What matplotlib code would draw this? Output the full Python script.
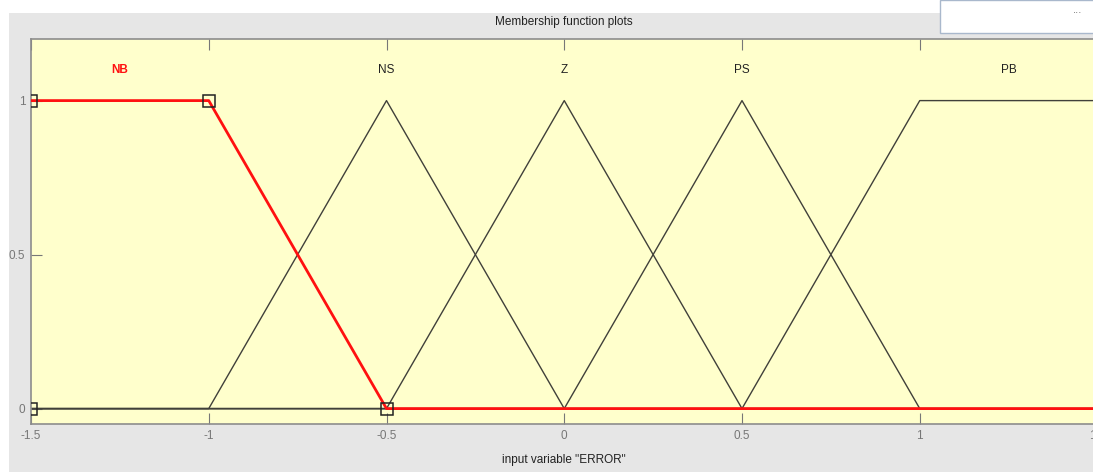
import matplotlib
matplotlib.use("Agg")
import matplotlib.pyplot as plt
from matplotlib.patches import Rectangle

# membership function vertices (x, y)
mf_names = ["NB", "NS", "Z", "PS", "PB"]
mf_label_x = [-1.25, -0.5, 0.0, 0.5, 1.25]
mf_x = [
    [-1.5, -1.0, -0.5, 1.5],
    [-1.5, -1.0, -0.5, 0.0, 1.5],
    [-1.5, -0.5, 0.0, 0.5, 1.5],
    [-1.5, 0.0, 0.5, 1.0, 1.5],
    [-1.5, 0.5, 1.0, 1.5],
]
mf_y = [
    [1, 1, 0, 0],
    [0, 0, 1, 0, 0],
    [0, 0, 1, 0, 0],
    [0, 0, 1, 0, 0],
    [0, 0, 1, 1],
]
selected = 0
# parameter points of the selected MF (trapmf [-1.5 -1.5 -1 -0.5])
param_x = [-1.5, -1.5, -1.0, -0.5]
param_y = [0, 1, 1, 0]

xticks = [-1.5, -1, -0.5, 0, 0.5, 1, 1.5]
xtick_labels = ["-1.5", "-1", "-0.5", "0", "0.5", "1", "1.5"]
yticks = [0, 0.5, 1]
ytick_labels = ["0", "0.5", "1"]

plt.rcParams["font.family"] = ["Liberation Sans", "DejaVu Sans"]

W, H = 1093, 472
fig = plt.figure(figsize=(W / 100, H / 100), dpi=100)
fig.patch.set_facecolor("white")

# gray panel behind the axes
fig.patches.append(Rectangle((9 / W, 0), 1 - 9 / W, 1 - 13 / H, transform=fig.transFigure,
                             facecolor="#e6e6e6", edgecolor="none", zorder=-10))
# white box in the top right corner
fig.patches.append(Rectangle((940 / W, 1 - 33 / H), 1, 33 / H, transform=fig.transFigure,
                             facecolor="white", edgecolor="#a9b8cc", linewidth=1, zorder=-5))
fig.text(1078 / W, 1 - 13 / H, "···", fontsize=7, color="#555555", ha="center", va="center")

ax = fig.add_axes([31 / W, 1 - 424 / H, 1066.5 / W, 385 / H])
ax.set_facecolor("#ffffcc")

for i, (xs, ys) in enumerate(zip(mf_x, mf_y)):
    if i == selected:
        continue
    ax.plot(xs, ys, color="#40403a", linewidth=1.0, zorder=2)
ax.plot(mf_x[selected], mf_y[selected], color="#ff1010", linewidth=2.0, zorder=3)
ax.plot(param_x, param_y, linestyle="none", marker="s", markersize=9,
        markerfacecolor="none", markeredgecolor="#222222", markeredgewidth=1.1, zorder=4)

for i, (name, lx) in enumerate(zip(mf_names, mf_label_x)):
    ax.text(lx, 1.1, name, ha="center", va="center", fontsize=8.5,
            color="#ff1010" if i == selected else "#222222",
            fontweight="bold" if i == selected else "normal")

ax.set_xlim(-1.5, 1.5)
ax.set_ylim(-0.05, 1.2)
ax.set_xticks(xticks)
ax.set_xticklabels(xtick_labels)
ax.set_yticks(yticks)
ax.set_yticklabels(ytick_labels)
ax.tick_params(direction="in", length=8, width=0.8, color="#777777",
               labelcolor="#777777", labelsize=8.5, top=True, pad=4)
for s in ax.spines.values():
    s.set_color("#8c8c8c")
    s.set_linewidth(1.2)

ax.set_title("Membership function plots", fontsize=8.5, color="#222222", pad=10)
ax.set_xlabel('input variable "ERROR"', fontsize=8.5, color="#222222", labelpad=9)

fig.savefig("out.png", dpi=100)
